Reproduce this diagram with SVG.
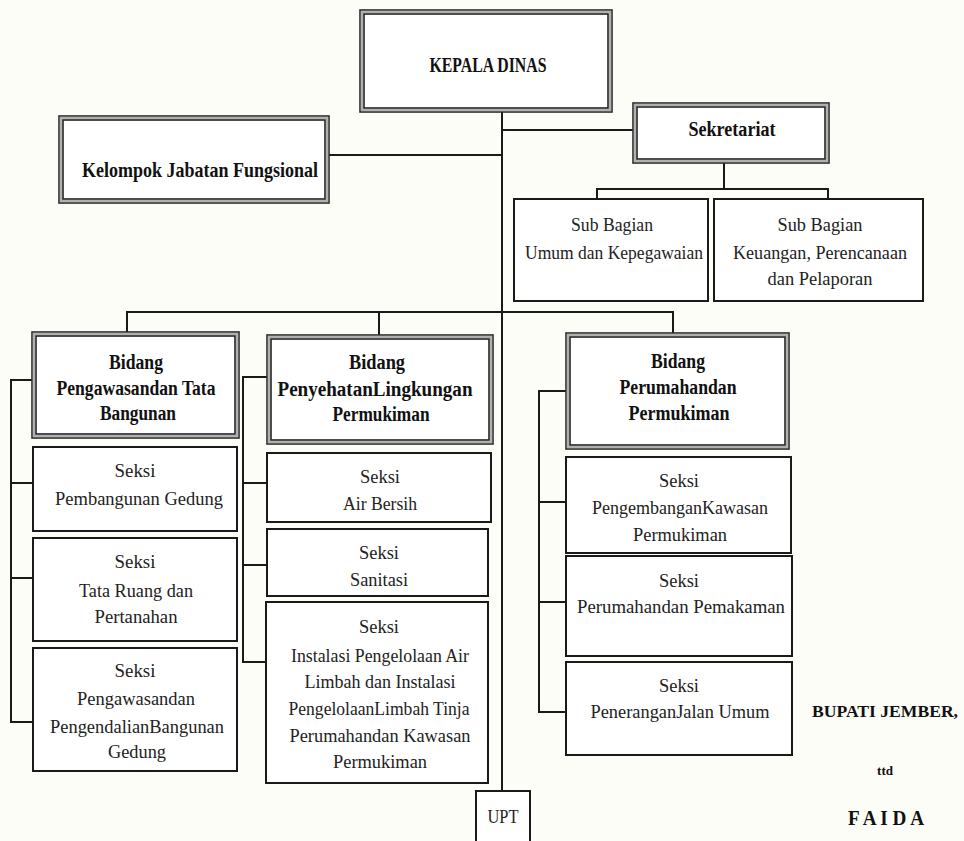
<svg xmlns="http://www.w3.org/2000/svg" width="964" height="841" viewBox="0 0 964 841">
<style>
.bg{fill:#fdfdf8}
.dbo{fill:#ffffff;stroke:#2a2a2a;stroke-width:1.6}
.dbm{fill:none;stroke:#b0b0b0;stroke-width:2.2}
.dbi{fill:none;stroke:#222;stroke-width:1.6}
.box{fill:#ffffff;stroke:#1a1a1a;stroke-width:2}
.ln{fill:none;stroke:#1a1a1a;stroke-width:2}
.h{font-family:"Liberation Serif","DejaVu Serif",serif;font-weight:bold;font-size:20px;fill:#111;text-anchor:middle}
.t{font-family:"Liberation Serif","DejaVu Serif",serif;font-size:19.5px;fill:#222;text-anchor:middle}
</style>
<rect class="bg" x="0" y="0" width="964" height="841"/>

<g id="connectors">
<path class="ln" d="M502 112V791"/>
<path class="ln" d="M329 155H502"/>
<path class="ln" d="M502 130H633"/>
<path class="ln" d="M724 163V189M597 199V189H828V199"/>
<path class="ln" d="M127 332V312H673V333M379 312V335"/>
<path class="ln" d="M32 380H11V722H33M11 483H33M11 578H33"/>
<path class="ln" d="M267 377H243V662H266M243 483H267M243 565H267"/>
<path class="ln" d="M566 391H539V712H566M539 502H566M539 602H566"/>
</g>

<g id="kepala">
<rect class="dbo" x="360" y="10" width="252" height="102"/>
<rect class="dbm" x="362" y="12" width="248" height="98"/>
<rect class="dbi" x="364" y="14" width="244" height="94"/>
<text class="h" x="488" y="72" style="font-size:22px" textLength="117" lengthAdjust="spacingAndGlyphs">KEPALA DINAS</text>
</g>

<g id="kelompok">
<rect class="dbo" x="59" y="116" width="270" height="87"/>
<rect class="dbm" x="61" y="118" width="266" height="83"/>
<rect class="dbi" x="63" y="120" width="262" height="79"/>
<text class="h" x="200" y="177" style="font-size:21px" textLength="236" lengthAdjust="spacingAndGlyphs">Kelompok Jabatan Fungsional</text>
</g>

<g id="sekretariat">
<rect class="dbo" x="633" y="103" width="196" height="60"/>
<rect class="dbm" x="635" y="105" width="192" height="56"/>
<rect class="dbi" x="637" y="107" width="188" height="52"/>
<text class="h" x="732" y="136" textLength="87" lengthAdjust="spacingAndGlyphs">Sekretariat</text>
</g>

<g id="subbag-umum">
<rect class="box" x="514" y="199" width="194" height="102"/>
<text class="t" x="612" y="231" textLength="82" lengthAdjust="spacingAndGlyphs">Sub Bagian</text>
<text class="t" x="614" y="259" textLength="178" lengthAdjust="spacingAndGlyphs">Umum dan Kepegawaian</text>
</g>

<g id="subbag-keuangan">
<rect class="box" x="714" y="199" width="209" height="102"/>
<text class="t" x="820" y="231" textLength="85" lengthAdjust="spacingAndGlyphs">Sub Bagian</text>
<text class="t" x="820" y="259" textLength="174" lengthAdjust="spacingAndGlyphs">Keuangan, Perencanaan</text>
<text class="t" x="820" y="285" textLength="105" lengthAdjust="spacingAndGlyphs">dan Pelaporan</text>
</g>

<g id="bidang-tata">
<rect class="dbo" x="32" y="332" width="207" height="106"/>
<rect class="dbm" x="34" y="334" width="203" height="102"/>
<rect class="dbi" x="36" y="336" width="199" height="98"/>
<text class="h" x="136" y="369" textLength="54" lengthAdjust="spacingAndGlyphs">Bidang</text>
<text class="h" x="136" y="395" textLength="159" lengthAdjust="spacingAndGlyphs">Pengawasandan Tata</text>
<text class="h" x="138" y="420" textLength="76" lengthAdjust="spacingAndGlyphs">Bangunan</text>
</g>

<g id="bidang-penyehatan">
<rect class="dbo" x="267" y="335" width="226" height="109"/>
<rect class="dbm" x="269" y="337" width="222" height="105"/>
<rect class="dbi" x="271" y="339" width="218" height="101"/>
<text class="h" x="377" y="369" textLength="56" lengthAdjust="spacingAndGlyphs">Bidang</text>
<text class="h" x="375" y="396" textLength="195" lengthAdjust="spacingAndGlyphs">PenyehatanLingkungan</text>
<text class="h" x="381" y="421" textLength="97" lengthAdjust="spacingAndGlyphs">Permukiman</text>
</g>

<g id="bidang-perumahan">
<rect class="dbo" x="566" y="333" width="223" height="116"/>
<rect class="dbm" x="568" y="335" width="219" height="112"/>
<rect class="dbi" x="570" y="337" width="215" height="108"/>
<text class="h" x="678" y="368" textLength="54" lengthAdjust="spacingAndGlyphs">Bidang</text>
<text class="h" x="678" y="394" textLength="117" lengthAdjust="spacingAndGlyphs">Perumahandan</text>
<text class="h" x="679" y="420" textLength="101" lengthAdjust="spacingAndGlyphs">Permukiman</text>
</g>

<g id="seksi-pembangunan">
<rect class="box" x="33" y="447" width="204" height="84"/>
<text class="t" x="135" y="477" textLength="41" lengthAdjust="spacingAndGlyphs">Seksi</text>
<text class="t" x="139" y="505" textLength="168" lengthAdjust="spacingAndGlyphs">Pembangunan Gedung</text>
</g>

<g id="seksi-tataruang">
<rect class="box" x="33" y="538" width="204" height="103"/>
<text class="t" x="135" y="568" textLength="41" lengthAdjust="spacingAndGlyphs">Seksi</text>
<text class="t" x="136" y="597" textLength="114" lengthAdjust="spacingAndGlyphs">Tata Ruang dan</text>
<text class="t" x="136" y="623" textLength="83" lengthAdjust="spacingAndGlyphs">Pertanahan</text>
</g>

<g id="seksi-pengawasan">
<rect class="box" x="33" y="648" width="204" height="123"/>
<text class="t" x="135" y="677" textLength="41" lengthAdjust="spacingAndGlyphs">Seksi</text>
<text class="t" x="136" y="705" textLength="118" lengthAdjust="spacingAndGlyphs">Pengawasandan</text>
<text class="t" x="137" y="733" textLength="174" lengthAdjust="spacingAndGlyphs">PengendalianBangunan</text>
<text class="t" x="137" y="758" textLength="58" lengthAdjust="spacingAndGlyphs">Gedung</text>
</g>

<g id="seksi-airbersih">
<rect class="box" x="267" y="453" width="224" height="69"/>
<text class="t" x="380" y="483" textLength="40" lengthAdjust="spacingAndGlyphs">Seksi</text>
<text class="t" x="380" y="510" textLength="74" lengthAdjust="spacingAndGlyphs">Air Bersih</text>
</g>

<g id="seksi-sanitasi">
<rect class="box" x="267" y="529" width="221" height="67"/>
<text class="t" x="379" y="559" textLength="40" lengthAdjust="spacingAndGlyphs">Seksi</text>
<text class="t" x="379" y="586" textLength="58" lengthAdjust="spacingAndGlyphs">Sanitasi</text>
</g>

<g id="seksi-instalasi">
<rect class="box" x="266" y="602" width="222" height="181"/>
<text class="t" x="379" y="633" textLength="40" lengthAdjust="spacingAndGlyphs">Seksi</text>
<text class="t" x="380" y="662" textLength="178" lengthAdjust="spacingAndGlyphs">Instalasi Pengelolaan Air</text>
<text class="t" x="380" y="688" textLength="151" lengthAdjust="spacingAndGlyphs">Limbah dan Instalasi</text>
<text class="t" x="379" y="715" textLength="181" lengthAdjust="spacingAndGlyphs">PengelolaanLimbah Tinja</text>
<text class="t" x="380" y="742" textLength="181" lengthAdjust="spacingAndGlyphs">Perumahandan Kawasan</text>
<text class="t" x="380" y="768" textLength="94" lengthAdjust="spacingAndGlyphs">Permukiman</text>
</g>

<g id="seksi-pengembangan">
<rect class="box" x="566" y="457" width="225" height="96"/>
<text class="t" x="679" y="487" textLength="40" lengthAdjust="spacingAndGlyphs">Seksi</text>
<text class="t" x="680" y="514" textLength="176" lengthAdjust="spacingAndGlyphs">PengembanganKawasan</text>
<text class="t" x="680" y="541" textLength="94" lengthAdjust="spacingAndGlyphs">Permukiman</text>
</g>

<g id="seksi-perumahan">
<rect class="box" x="566" y="556" width="226" height="100"/>
<text class="t" x="679" y="587" textLength="40" lengthAdjust="spacingAndGlyphs">Seksi</text>
<text class="t" x="681" y="613" textLength="208" lengthAdjust="spacingAndGlyphs">Perumahandan Pemakaman</text>
</g>

<g id="seksi-penerangan">
<rect class="box" x="566" y="662" width="226" height="93"/>
<text class="t" x="679" y="692" textLength="40" lengthAdjust="spacingAndGlyphs">Seksi</text>
<text class="t" x="680" y="718" textLength="179" lengthAdjust="spacingAndGlyphs">PeneranganJalan Umum</text>
</g>

<g id="upt">
<rect class="box" x="476" y="791" width="54" height="60"/>
<text class="t" x="503" y="823" textLength="31" lengthAdjust="spacingAndGlyphs">UPT</text>
</g>

<g id="signature">
<text class="h" x="885" y="717" style="font-size:17.5px" textLength="146" lengthAdjust="spacingAndGlyphs">BUPATI JEMBER,</text>
<text class="h" x="885" y="775" style="font-size:13px">ttd</text>
<text class="h" x="886" y="825" textLength="76" lengthAdjust="spacingAndGlyphs">F A I D A</text>
</g>
</svg>
